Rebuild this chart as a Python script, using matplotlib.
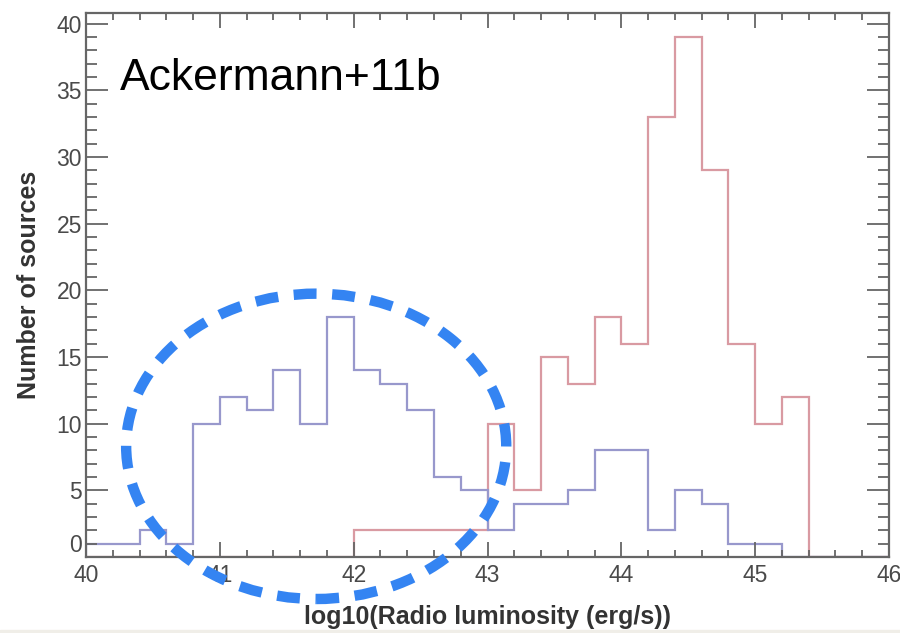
import numpy as np
import matplotlib.pyplot as plt
from matplotlib.patches import Ellipse, Rectangle
from matplotlib.ticker import MultipleLocator

# bin edges of log10 radio luminosity (0.2 dex bins)
edges = np.round(np.arange(40.0, 46.01, 0.2), 1)

# counts per bin, 40.0 -> 46.0
blue_counts = [1, 1, 2, 1, 10, 12, 11, 14, 10, 18,
               14, 13, 11, 6, 5, 2, 4, 4, 5, 8,
               8, 2, 5, 4, 1, 1, 0, 0, 0, 0]
red_counts = [0, 0, 0, 0, 0, 0, 0, 0, 0, 0,
              2, 2, 2, 2, 2, 10, 5, 15, 13, 18,
              16, 33, 39, 29, 16, 10, 12, 0, 0, 0]

plt.rcParams['font.family'] = ['Liberation Sans', 'DejaVu Sans']

fig = plt.figure(figsize=(9, 6.33), dpi=100)
ax = fig.add_axes([86 / 900, 1 - 557 / 633, (889 - 86) / 900, (557 - 13) / 633])

ax.stairs(red_counts, edges, color='#d99aa2', lw=1.6)
ax.stairs(blue_counts, edges, color='#9898cc', lw=1.6)

ax.set_xlim(40, 46)
ax.set_ylim(0, 40.8)

ax.xaxis.set_major_locator(MultipleLocator(1))
ax.xaxis.set_minor_locator(MultipleLocator(0.2))
ax.yaxis.set_major_locator(MultipleLocator(5))
ax.yaxis.set_minor_locator(MultipleLocator(1))

grey = '#666666'
for s in ax.spines.values():
    s.set_color(grey)
    s.set_linewidth(1.6)
ax.tick_params(which='both', direction='in', top=True, right=True,
               colors=grey, labelcolor='#4a4a4a', labelsize=16.5, width=1.3)
ax.tick_params(axis='x', which='major', length=11, pad=5)
ax.tick_params(axis='x', which='minor', length=5)
ax.tick_params(axis='y', which='major', length=16, pad=3)
ax.tick_params(axis='y', which='minor', length=8)

# lift the y "0" so it clears the x "40"
ax.get_yticklabels()
for tick in ax.yaxis.get_major_ticks():
    if abs(tick.get_loc()) < 1e-9:
        tick.label1.set_verticalalignment('bottom')

ax.set_xlabel('log10(Radio luminosity (erg/s))', fontsize=18,
              fontweight='bold', color='#333333', labelpad=13)
ax.set_ylabel('Number of sources', fontsize=18,
              fontweight='bold', color='#333333', labelpad=11)

ax.text(40.25, 35.0, 'Ackermann+11b', fontsize=32, color='black',
        ha='left', va='baseline')

# dashed ring around the low-luminosity population
ring = Ellipse((41.72, 8.3), 2.84, 22.9, fill=False, edgecolor='#3484f2',
               lw=7.5, linestyle=(0, (2.2, 1.5)), clip_on=False, zorder=5)
ax.add_patch(ring)

fig.patches.append(Rectangle((0, 0), 1, 3 / 633, transform=fig.transFigure,
                             color='#f0eee8', zorder=-1))

fig.savefig('out.png', dpi=100)
